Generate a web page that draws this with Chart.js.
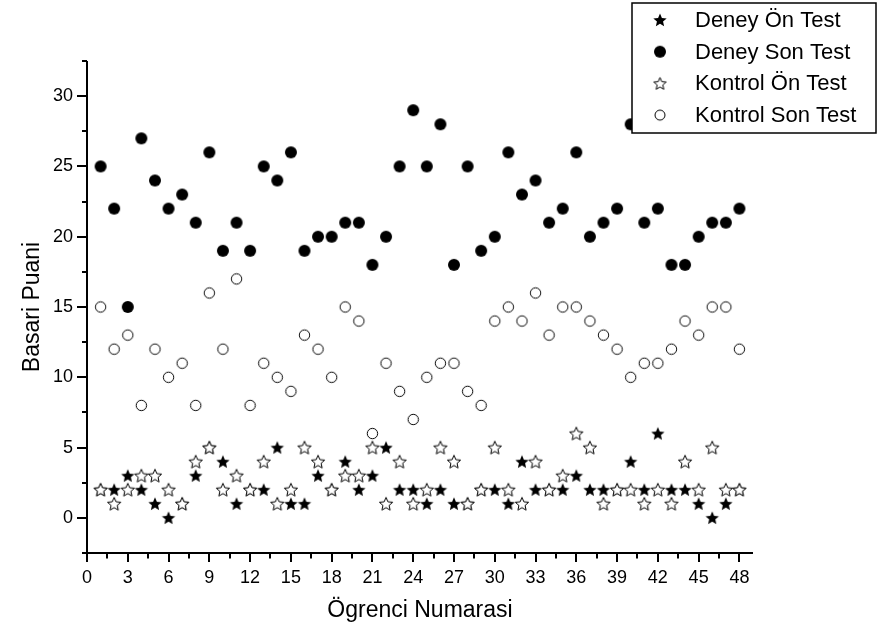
<!DOCTYPE html>
<html>
<head>
<meta charset="utf-8">
<script src="https://cdn.jsdelivr.net/npm/chart.js@4.4.0/dist/chart.umd.min.js"></script>
<style>
  html, body { margin: 0; padding: 0; background: #fff; }
</style>
</head>
<body>
<canvas id="myChart" width="880" height="633"></canvas>
<script>
// ogrenci numaralari (x ekseni)
const ogrenci = [1, 2, 3, 4, 5, 6, 7, 8, 9, 10, 11, 12, 13, 14, 15, 16, 17, 18, 19, 20, 21, 22, 23, 24,
  25, 26, 27, 28, 29, 30, 31, 32, 33, 34, 35, 36, 37, 38, 39, 40, 41, 42, 43, 44, 45, 46, 47, 48];

const deneyOnTest = [2, 2, 3, 2, 1, 0, 1, 3, 5, 4, 1, 2, 2, 5, 1, 1, 3, 2, 4, 2, 3, 5, 2, 2,
  1, 2, 1, 1, 2, 2, 1, 4, 2, 2, 2, 3, 2, 2, 2, 4, 2, 6, 2, 2, 1, 0, 1, 2];
const deneySonTest = [25, 22, 15, 27, 24, 22, 23, 21, 26, 19, 21, 19, 25, 24, 26, 19, 20, 20, 21, 21, 18, 20, 25, 29,
  25, 28, 18, 25, 19, 20, 26, 23, 24, 21, 22, 26, 20, 21, 22, 28, 21, 22, 18, 18, 20, 21, 21, 22];
const kontrolOnTest = [2, 1, 2, 3, 3, 2, 1, 4, 5, 2, 3, 2, 4, 1, 2, 5, 4, 2, 3, 3, 5, 1, 4, 1,
  2, 5, 4, 1, 2, 5, 2, 1, 4, 2, 3, 6, 5, 1, 2, 2, 1, 2, 1, 4, 2, 5, 2, 2];
const kontrolSonTest = [15, 12, 13, 8, 12, 10, 11, 8, 16, 12, 17, 8, 11, 10, 9, 13, 12, 10, 15, 14, 6, 11, 9, 7,
  10, 11, 11, 9, 8, 14, 15, 14, 16, 13, 15, 15, 14, 13, 12, 10, 11, 11, 12, 14, 13, 15, 15, 12];

const seriAdlari = ["Deney Ön Test", "Deney Son Test", "Kontrol Ön Test", "Kontrol Son Test"];

// eksen etiketleri
const xEtiketler = [0, 3, 6, 9, 12, 15, 18, 21, 24, 27, 30, 33, 36, 39, 42, 45, 48];
const yEtiketler = [0, 5, 10, 15, 20, 25, 30];

const xMin = 0, xMax = 49;
const yMin = -2.5, yMax = 32.5;
const yazi = "'Liberation Sans', Arial, sans-serif";

// isaretler: yildiz / daire, dolu / bos
function isaret(tip, boyut) {
  const c = document.createElement("canvas");
  const s = Math.ceil(boyut * 2 + 4);
  c.width = s;
  c.height = s;
  const g = c.getContext("2d");
  const m = s / 2;
  g.lineWidth = 1;
  g.strokeStyle = "#000";
  g.beginPath();
  if (tip.indexOf("yildiz") >= 0) {
    for (let k = 0; k < 10; k++) {
      const r = k % 2 ? boyut * 0.46 : boyut;
      const t = -Math.PI / 2 + (k * Math.PI) / 5;
      g.lineTo(m + r * Math.cos(t), m + 0.6 + r * Math.sin(t));
    }
    g.closePath();
  } else {
    g.arc(m, m, boyut, 0, Math.PI * 2);
  }
  if (tip.indexOf("dolu") === 0) {
    g.fillStyle = "#000";
    g.fill();
  } else {
    g.fillStyle = "#fff";
    g.fill();
    g.stroke();
  }
  return c;
}

const noktaStil = [isaret("dolu-yildiz", 7), isaret("dolu-daire", 6), isaret("bos-yildiz", 7), isaret("bos-daire", 5.2)];
const lejantStil = [isaret("dolu-yildiz", 7), isaret("dolu-daire", 6), isaret("bos-yildiz", 6.5), isaret("bos-daire", 5)];

function noktalar(dizi) {
  return ogrenci.map((n, i) => ({ x: n, y: dizi[i] }));
}

// eksen cizgileri ve tikler (ara tikler etiketlerin ortasinda)
const eksenCiz = {
  id: "eksenCiz",
  afterDatasetsDraw(chart) {
    const ctx = chart.ctx;
    const xs = chart.scales.x, ys = chart.scales.y;
    const a = chart.chartArea;
    ctx.save();
    ctx.strokeStyle = "#000";
    ctx.lineWidth = 2;
    ctx.beginPath();
    ctx.moveTo(a.left, a.top);
    ctx.lineTo(a.left, a.bottom + 1);
    ctx.moveTo(a.left - 1, a.bottom);
    ctx.lineTo(a.right, a.bottom);
    const yTik = (v, uz) => {
      const py = Math.round(ys.getPixelForValue(v));
      ctx.moveTo(a.left - uz, py);
      ctx.lineTo(a.left, py);
    };
    yEtiketler.forEach((v) => {
      yTik(v, 10);
      yTik(v - 2.5, 5);
    });
    yTik(yEtiketler[yEtiketler.length - 1] + 2.5, 5);
    const xTik = (v, uz) => {
      const px = Math.round(xs.getPixelForValue(v));
      ctx.moveTo(px, a.bottom);
      ctx.lineTo(px, a.bottom + uz);
    };
    xEtiketler.forEach((v, i) => {
      xTik(v, 9);
      if (i > 0) xTik(v - 1.5, 5.5);
    });
    ctx.stroke();
    ctx.restore();
  },
};

// cerceveli lejant, sag ust kose
const kutuLejant = {
  id: "kutuLejant",
  afterDraw(chart) {
    const ctx = chart.ctx;
    const x0 = 632, y0 = 3, w = 244, h = 130;
    ctx.save();
    ctx.fillStyle = "#fff";
    ctx.fillRect(x0, y0, w, h);
    ctx.strokeStyle = "#000";
    ctx.lineWidth = 1.5;
    ctx.strokeRect(x0, y0, w, h);
    ctx.font = "22px " + yazi;
    ctx.fillStyle = "#000";
    ctx.textBaseline = "middle";
    chart.data.datasets.forEach((ds, i) => {
      const cy = 20 + i * 31.7;
      const img = lejantStil[i];
      ctx.drawImage(img, 660 - img.width / 2, cy - img.height / 2);
      ctx.fillText(ds.label, 695, cy + 1);
    });
    ctx.restore();
  },
};

new Chart(document.getElementById("myChart"), {
  type: "scatter",
  data: {
    datasets: [
      { label: seriAdlari[0], data: noktalar(deneyOnTest), pointStyle: noktaStil[0], order: 4 },
      { label: seriAdlari[1], data: noktalar(deneySonTest), pointStyle: noktaStil[1], order: 3 },
      { label: seriAdlari[2], data: noktalar(kontrolOnTest), pointStyle: noktaStil[2], order: 2 },
      { label: seriAdlari[3], data: noktalar(kontrolSonTest), pointStyle: noktaStil[3], order: 1 },
    ],
  },
  options: {
    responsive: false,
    animation: false,
    devicePixelRatio: 1,
    layout: { padding: { top: 61, right: 127, left: 0, bottom: 0 } },
    plugins: {
      legend: { display: false },
      tooltip: { enabled: false },
    },
    scales: {
      x: {
        type: "linear",
        min: xMin,
        max: xMax,
        afterBuildTicks(scale) { scale.ticks = xEtiketler.map((v) => ({ value: v })); },
        afterFit(scale) { scale.height = 80; },
        grid: { display: false, drawTicks: false },
        border: { display: false },
        ticks: {
          padding: 14,
          color: "#000",
          font: { family: yazi, size: 18 },
          maxRotation: 0,
          autoSkip: false,
        },
        title: {
          display: true,
          text: "Ögrenci Numarasi",
          color: "#000",
          font: { family: yazi, size: 23 },
          padding: { top: 0, bottom: 9 },
        },
      },
      y: {
        min: yMin,
        max: yMax,
        afterBuildTicks(scale) { scale.ticks = yEtiketler.map((v) => ({ value: v })); },
        afterFit(scale) { scale.width = 87; },
        grid: { display: false, drawTicks: false },
        border: { display: false },
        ticks: {
          padding: 14,
          color: "#000",
          font: { family: yazi, size: 18 },
          autoSkip: false,
        },
        title: {
          display: true,
          text: "Basari Puani",
          color: "#000",
          font: { family: yazi, size: 23 },
          padding: { top: 19, bottom: 0 },
        },
      },
    },
  },
  plugins: [eksenCiz, kutuLejant],
});
</script>
</body>
</html>
